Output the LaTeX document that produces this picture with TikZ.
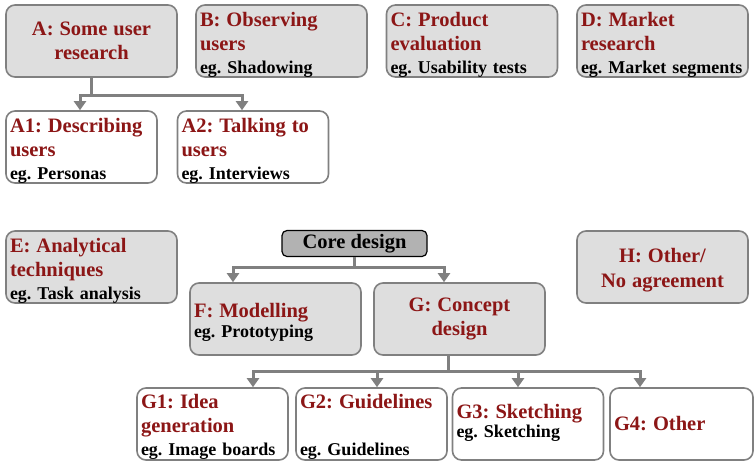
\documentclass[tikz,border=0pt]{standalone}
\usepackage{fontspec}
\setmainfont{Liberation Serif}
\usetikzlibrary{arrows.meta}

\definecolor{boxgray}{RGB}{222,222,222}
\definecolor{coregray}{RGB}{178,178,178}
\definecolor{linegray}{RGB}{128,128,128}
\definecolor{headred}{RGB}{140,22,22}
\newcommand{\hd}[1]{{\color{headred}\fontsize{20.5}{24}\selectfont #1}}

\begin{document}
\begin{tikzpicture}[x=1pt, y=-1pt,
		box/.style={draw=linegray, line width=1.6pt, rounded corners=9pt, fill=boxgray,
			minimum width=171pt, minimum height=72pt, inner xsep=4pt, inner ysep=0pt,
			text width=163pt, align=left,
			font=\bfseries\frenchspacing\fontsize{18}{24}\selectfont},
		sub/.style={box, fill=white, minimum width=151pt, text width=143pt},
		lift/.style={text height=#1, text depth=72pt-#1},
		lift/.default=21pt,
		core/.style={draw=black, line width=1.2pt, rounded corners=5pt, fill=coregray,
			minimum width=145pt, minimum height=26pt, inner sep=0pt,
			font=\bfseries\fontsize{20.5}{24}\selectfont},
		arr/.style={draw=linegray, line width=3pt, -{Triangle[width=12pt,length=9pt]}}]
		%%%%% START %%%%%
		\useasboundingbox (0,0) rectangle (755,461);
		
		% top row
		\node[box, align=center] (A) at (91.5,41) {\hd{A: Some user}\\\hd{research}};
		\node[box, lift] (B) at (281.5,41) {\hd{B: Observing}\\\hd{users}\\[-1pt]eg. Shadowing};
		\node[box, lift] (C) at (472,41) {\hd{C: Product}\\\hd{evaluation}\\[-1pt]eg. Usability tests};
		\node[box, lift] (D) at (662.5,41) {\hd{D: Market}\\\hd{research}\\[-1pt]eg. Market segments};
		
		\node[sub, lift] (A1) at (81.5,147) {\hd{A1: Describing}\\\hd{users}\\[-1pt]eg. Personas};
		\node[sub, lift] (A2) at (253,147) {\hd{A2: Talking to}\\\hd{users}\\[-1pt]eg. Interviews};
		
		\coordinate (Aj) at (91.5,95);
		\draw[arr] (A.south) -- (Aj) -| ([xshift=-1.5pt]A1.north);
		\draw[arr] (Aj) -| ([xshift=-11pt]A2.north);
		
		% middle row
		\node[box, lift] (E) at (91.5,267) {\hd{E: Analytical}\\\hd{techniques}\\[-1pt]eg. Task analysis};
		\node[core] (core) at (354.5,243.5) {Core design};
		\node[box, align=center, lift=31pt] (H) at (662.5,267) {\hd{H: Other/}\\[1pt]\hd{No agreement}};
		
		\node[box, lift=34pt] (F) at (275.5,319) {\hd{F: Modelling}\\[-4pt]eg. Prototyping};
		\node[box, align=center] (G) at (459.5,319) {\hd{G: Concept}\\\hd{design}};
		
		\coordinate (Cj) at (354.5,267);
		\draw[arr] (core.south) -- (Cj) -| ([xshift=-42.5pt]F.north);
		\draw[arr] (Cj) -| ([xshift=-15.5pt]G.north);
		
		% bottom row
		\node[sub, lift=20pt] (G1) at (212.5,424) {\hd{G1: Idea}\\\hd{generation}\\[-1pt]eg. Image boards};
		\node[sub, lift=20pt] (G2) at (371.5,424) {\hd{G2: Guidelines}\\[23pt]eg. Guidelines};
		\node[sub, lift=30pt] (G3) at (528,424) {\hd{G3: Sketching}\\[-5pt]eg. Sketching};
		\node[sub, minimum width=143pt, text width=135pt] (G4) at (681.5,424) {\hd{G4: Other}};
		
		\coordinate (Gj) at (448,371);
		\draw[arr] ([xshift=-11.5pt]G.south) -- (Gj) -| ([xshift=40.5pt]G1.north);
		\draw[arr] (Gj) -| ([xshift=5.5pt]G2.north);
		\draw[arr] (Gj) -| ([xshift=-10pt]G3.north);
		\draw[arr] (Gj) -| ([xshift=-41.5pt]G4.north);
		%%%%% END %%%%%
\end{tikzpicture}
\end{document}
